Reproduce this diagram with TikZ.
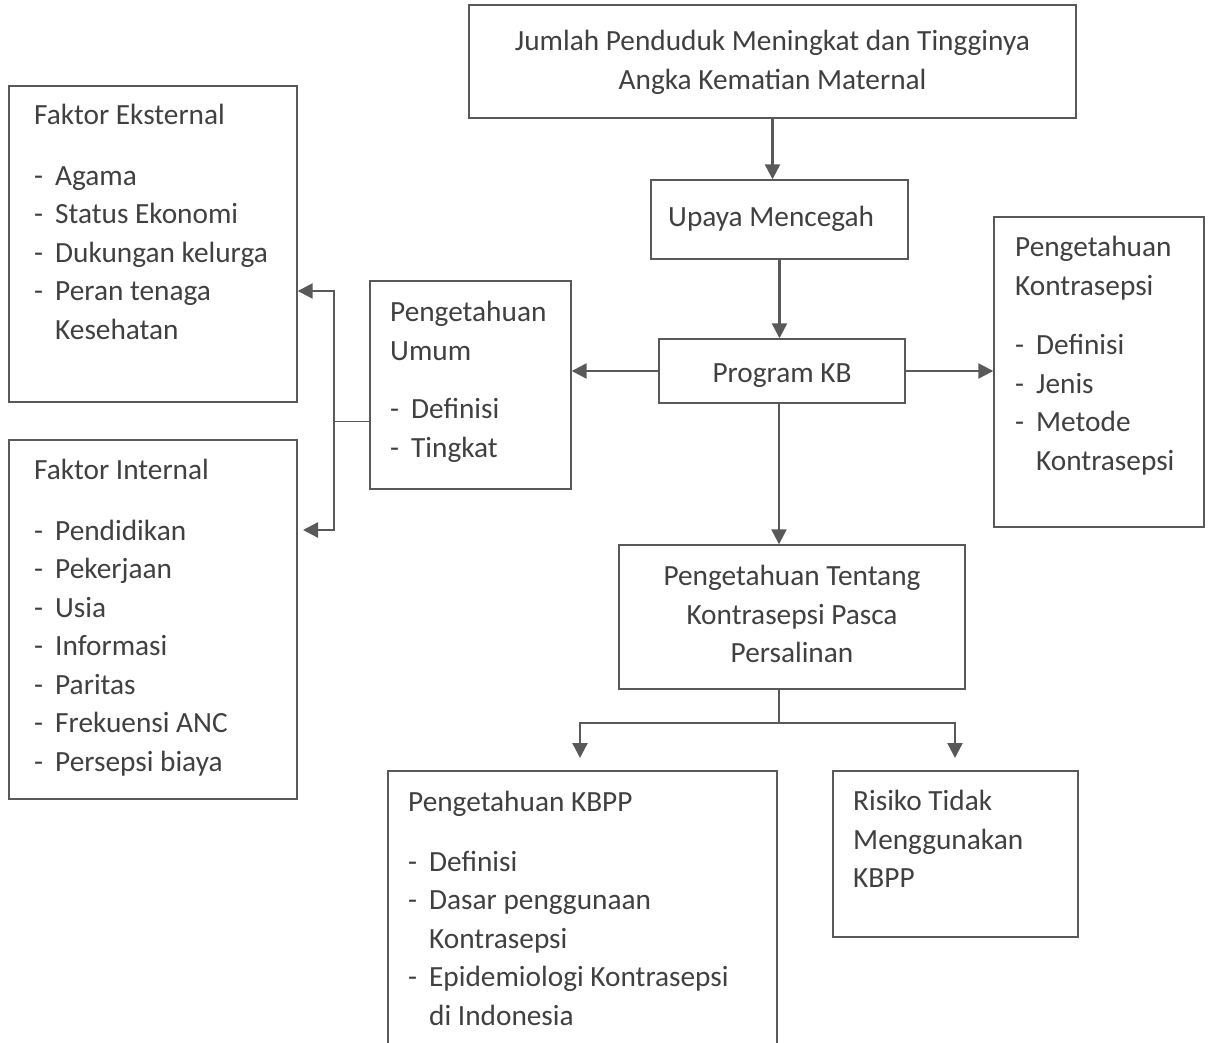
\documentclass[tikz,border=0pt]{standalone}
\usepackage{fontspec}
\setmainfont{Carlito}
\usepackage{tikz}
\usetikzlibrary{positioning,calc,arrows.meta}
\definecolor{garis}{HTML}{595959}
\definecolor{teks}{HTML}{404040}
\tikzstyle{kotak}=[draw=garis, line width=1.4pt, inner sep=0pt]
\tikzstyle{tulis}=[align=left, anchor=north west, inner sep=0pt, text=teks, font=\fontsize{29.3}{38.5}\selectfont, execute at begin node=\strut]
\tikzstyle{tengah}=[tulis, align=center, anchor=north]
\tikzstyle{panah}=[draw=garis, line width=2.4pt, -{Triangle[length=15pt,width=15pt]}]
\tikzstyle{garisan}=[draw=garis, line width=1.4pt]
\newcommand{\butir}[1]{\makebox[21pt][l]{-}#1}
\newcommand{\sambung}{\hspace*{21pt}}

\begin{document}
\begin{tikzpicture}[x=1pt,y=-1pt]
	\useasboundingbox (0,0) rectangle (1211,1043);
	% kotak
	\node[kotak, minimum width=607pt, minimum height=113pt] at (772.5,61.5) (jumlah) {};
	\node[kotak, minimum width=257pt, minimum height=79pt] at (779.5,219.5) (upaya) {};
	\node[kotak, minimum width=246pt, minimum height=64pt] at (782,371) (kb) {};
	\node[kotak, minimum width=201pt, minimum height=208pt] at (470.5,385) (umum) {};
	\node[kotak, minimum width=210pt, minimum height=310pt] at (1099,372) (kontra) {};
	\node[kotak, minimum width=288pt, minimum height=316pt] at (153,244) (eksternal) {};
	\node[kotak, minimum width=288pt, minimum height=359pt] at (153,619.5) (internal) {};
	\node[kotak, minimum width=346pt, minimum height=144pt] at (792,617) (pasca) {};
	\node[kotak, minimum width=389pt, minimum height=289pt] at (582.5,915.5) (kbpp) {};
	\node[kotak, minimum width=245pt, minimum height=166pt] at (955.5,854) (risiko) {};
	% tulisan
	\node[tengah] at (772.5,30) (jumlahT) {Jumlah Penduduk Meningkat dan Tingginya\\Angka Kematian Maternal};
	\node[tulis] at (668,199) (upayaT) {Upaya Mencegah};
	\node[tengah] at (782,355) (kbT) {Program KB};
	\node[tulis] at (390,301) (umumT) {Pengetahuan\\Umum\\[20pt]\butir{Definisi}\\\butir{Tingkat}};
	\node[tulis] at (1015,236) (kontraT) {Pengetahuan\\Kontrasepsi\\[21pt]\butir{Definisi}\\\butir{Jenis}\\\butir{Metode}\\\sambung Kontrasepsi};
	\node[tulis] at (34,104) (eksternalT) {Faktor Eksternal\\[22pt]\butir{Agama}\\\butir{Status Ekonomi}\\\butir{Dukungan kelurga}\\\butir{Peran tenaga}\\\sambung Kesehatan};
	\node[tulis] at (34,459) (internalT) {Faktor Internal\\[22pt]\butir{Pendidikan}\\\butir{Pekerjaan}\\\butir{Usia}\\\butir{Informasi}\\\butir{Paritas}\\\butir{Frekuensi ANC}\\\butir{Persepsi biaya}};
	\node[tengah] at (792,565) (pascaT) {Pengetahuan Tentang\\Kontrasepsi Pasca\\Persalinan};
	\node[tulis] at (408,791) (kbppT) {Pengetahuan KBPP\\[21pt]\butir{Definisi}\\\butir{Dasar penggunaan}\\\sambung Kontrasepsi\\\butir{Epidemiologi Kontrasepsi}\\\sambung di Indonesia};
	\node[tulis] at (853,790) (risikoT) {Risiko Tidak\\Menggunakan\\KBPP};
	% panah
	\draw[panah] (jumlah.south) -- (jumlah.south |- upaya.north);
	\draw[panah] (upaya.south) -- (upaya.south |- kb.north);
	\draw[panah] (kb.west) -- (kb.west -| umum.east);
	\draw[panah] (kb.east) -- (kb.east -| kontra.west);
	\coordinate (cabang) at (779,723);
	\coordinate (kiriB) at (580,758);
	\coordinate (kananB) at (955,758);
	\draw[panah] (cabang |- kb.south) -- (cabang |- pasca.north);
	\draw[garisan] (cabang |- pasca.south) -- (cabang);
	\draw[panah] (cabang) -| (kiriB);
	\draw[panah] (cabang) -| (kananB);
	\coordinate (bus) at (334,421);
	\coordinate (busA) at (334,291);
	\coordinate (busB) at (334,530);
	\draw[garisan, line width=1pt] (umum.west |- bus) -- (bus);
	\draw[panah] (bus) -- (busA) -- (eksternal.east |- busA);
	\draw[panah] (bus) -- (busB) -- (303,530);
\end{tikzpicture}
\end{document}
